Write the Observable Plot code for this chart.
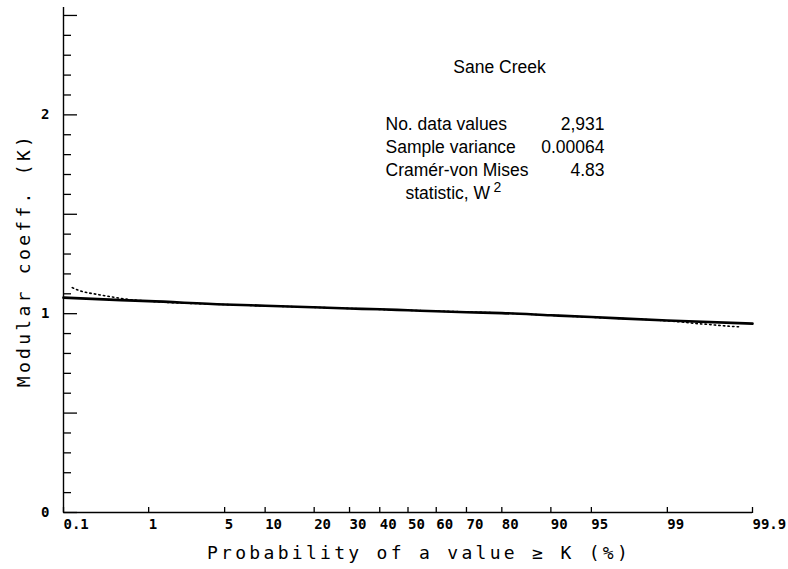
<!DOCTYPE html>
<html>
<head>
<meta charset="utf-8">
<script src="https://cdn.jsdelivr.net/npm/d3@7"></script>
<script src="https://cdn.jsdelivr.net/npm/@observablehq/plot@0.6"></script>
<style>
  html, body { margin: 0; padding: 0; background: #fff; }
  #chart svg { display: block; }
</style>
</head>
<body>
<div id="chart"></div>
<script>
// ---------- data ----------
const title = "Sane Creek";
const statLabels = ["No. data values", "Sample variance", "Cramér-von Mises"];
const statValues = ["2,931", "0.00064", "4.83"];
const statNote = "statistic, W";
const statNoteSup = "2";
const xLabel = "Probability of a value \u2265 K (%)";
const yLabel = "Modular coeff. (K)";

const probTicks = [0.1, 1, 5, 10, 20, 30, 40, 50, 60, 70, 80, 90, 95, 99, 99.9];
const probTickLabels = ["0.1", "1", "5", "10", "20", "30", "40", "50", "60", "70", "80", "90", "95", "99", "99.9"];
const yTickLabels = [0, 1, 2];

// fitted (solid) line
const solidProb = [0.1, 0.5, 1, 5, 10, 20, 30, 40, 50, 60, 70, 80, 90, 95, 99, 99.9];
const solidK    = [1.081, 1.068, 1.063, 1.046, 1.040, 1.032, 1.026, 1.022, 1.017, 1.012, 1.007, 1.003, 0.992, 0.983, 0.966, 0.950];

// observed (dotted) curve
const dotProb = [0.13, 0.16, 0.2, 0.25, 0.3, 0.4, 0.6, 1, 5, 20, 50, 80, 95, 99, 99.3, 99.5, 99.65, 99.75, 99.85];
const dotK    = [1.131, 1.116, 1.106, 1.099, 1.093, 1.084, 1.072, 1.063, 1.046, 1.032, 1.017, 1.003, 0.982, 0.964, 0.958, 0.951, 0.946, 0.940, 0.934];

// ---------- normal-probability transform (inverse normal CDF, Acklam) ----------
function probit(p) {
  const a = [-3.969683028665376e+01, 2.209460984245205e+02, -2.759285104469687e+02, 1.383577518672690e+02, -3.066479806614716e+01, 2.506628277459239e+00];
  const b = [-5.447609879822406e+01, 1.615858368580409e+02, -1.556989798598866e+02, 6.680131188771972e+01, -1.328068155288572e+01];
  const c = [-7.784894002430293e-03, -3.223964580411365e-01, -2.400758277161838e+00, -2.549732539343734e+00, 4.374664141464968e+00, 2.938163982698783e+00];
  const d = [7.784695709041462e-03, 3.224671290700398e-01, 2.445134137142996e+00, 3.754408661907416e+00];
  const pl = 0.02425, ph = 1 - pl;
  let q, r;
  if (p < pl) {
    q = Math.sqrt(-2 * Math.log(p));
    return (((((c[0]*q + c[1])*q + c[2])*q + c[3])*q + c[4])*q + c[5]) / ((((d[0]*q + d[1])*q + d[2])*q + d[3])*q + 1);
  } else if (p <= ph) {
    q = p - 0.5; r = q*q;
    return (((((a[0]*r + a[1])*r + a[2])*r + a[3])*r + a[4])*r + a[5])*q / (((((b[0]*r + b[1])*r + b[2])*r + b[3])*r + b[4])*r + 1);
  } else {
    q = Math.sqrt(-2 * Math.log(1 - p));
    return -(((((c[0]*q + c[1])*q + c[2])*q + c[3])*q + c[4])*q + c[5]) / ((((d[0]*q + d[1])*q + d[2])*q + d[3])*q + 1);
  }
}
const z = (pct) => probit(pct / 100);

const solidData = solidProb.map((p, i) => ({z: z(p), k: solidK[i]}));
const dotData = dotProb.map((p, i) => ({z: z(p), k: dotK[i]}));
const zTicks = probTicks.map(z);
const tickLabelMap = new Map(zTicks.map((t, i) => [t, probTickLabels[i]]));

const yMinor = d3.range(0, 26).map(i => +(i / 10).toFixed(1)).filter(v => Math.round(v * 10) % 5 !== 0);
const yMajor = [0, 0.5, 1, 1.5, 2, 2.5];

const mono = "DejaVu Sans Mono";
const sans = "Liberation Sans";

const chart = Plot.plot({
  width: 788,
  height: 569,
  marginLeft: 63,
  marginRight: 36,
  marginTop: 7,
  marginBottom: 57,
  style: {background: "white", color: "black"},
  x: {type: "linear", domain: [z(0.1), z(99.9)], axis: null},
  y: {domain: [0, 2.54], axis: null},
  marks: [
    // axis lines
    Plot.ruleX([z(0.1)], {stroke: "black", strokeWidth: 1.4}),
    Plot.ruleY([0], {stroke: "black", strokeWidth: 1.4}),
    // y ticks pointing inward
    Plot.axisY(yMinor, {anchor: "right", frameAnchor: "left", tickSize: 7, tickFormat: () => "", label: null, strokeWidth: 1.3}),
    Plot.axisY(yMajor, {anchor: "right", frameAnchor: "left", tickSize: 13, tickFormat: () => "", label: null, strokeWidth: 1.3}),
    Plot.axisY(yTickLabels, {anchor: "left", tickSize: 0, tickPadding: 14, label: null, tickFormat: (d) => String(d),
      fontFamily: mono, fontWeight: "bold", fontSize: 14}),
    // x ticks pointing up
    Plot.axisX(zTicks, {anchor: "top", frameAnchor: "bottom", tickSize: 6, tickFormat: () => "", label: null, strokeWidth: 1.3}),
    Plot.axisX(zTicks, {anchor: "bottom", tickSize: 0, tickPadding: 7, label: null,
      tickFormat: (d) => tickLabelMap.get(d), textAnchor: "start",
      fontFamily: mono, fontWeight: "bold", fontSize: 14}),
    // data
    Plot.line(dotData, {x: "z", y: "k", stroke: "black", strokeWidth: 1.6, strokeDasharray: "1.4,3.2", curve: "monotone-x"}),
    Plot.line(solidData, {x: "z", y: "k", stroke: "black", strokeWidth: 2.6, curve: "monotone-x"}),
    // annotations
    Plot.text([title], {frameAnchor: "top-left", dx: 436, dy: 65, textAnchor: "middle", lineAnchor: "bottom",
      fontFamily: sans, fontSize: 17.5, fill: "black"}),
    ...statLabels.map((s, i) => Plot.text([s], {frameAnchor: "top-left", dx: 322, dy: 122 + i * 23, textAnchor: "start",
      lineAnchor: "bottom", fontFamily: sans, fontSize: 17.5, fill: "black"})),
    ...statValues.map((s, i) => Plot.text([s], {frameAnchor: "top-left", dx: 541, dy: 122 + i * 23, textAnchor: "end",
      lineAnchor: "bottom", fontFamily: sans, fontSize: 17.5, fill: "black"})),
    Plot.text([statNote], {frameAnchor: "top-left", dx: 342, dy: 191, textAnchor: "start", lineAnchor: "bottom",
      fontFamily: sans, fontSize: 17.5, fill: "black"}),
    Plot.text([statNoteSup], {frameAnchor: "top-left", dx: 430, dy: 184, textAnchor: "start", lineAnchor: "bottom",
      fontFamily: sans, fontSize: 14, fill: "black"}),
    // axis titles
    Plot.text([xLabel], {frameAnchor: "bottom", dx: 11, dy: 46, textAnchor: "middle", lineAnchor: "bottom",
      fontFamily: mono, fontSize: 18, fill: "black"}),
    Plot.text([yLabel], {frameAnchor: "left", dx: -39, dy: 0, rotate: -90, textAnchor: "middle", lineAnchor: "middle",
      fontFamily: mono, fontSize: 18, fill: "black"})
  ]
});

d3.select(chart).selectAll("text")
  .filter(function () { return this.textContent === xLabel || this.textContent === yLabel; })
  .style("letter-spacing", "3.3px");

document.getElementById("chart").appendChild(chart);
</script>
</body>
</html>
